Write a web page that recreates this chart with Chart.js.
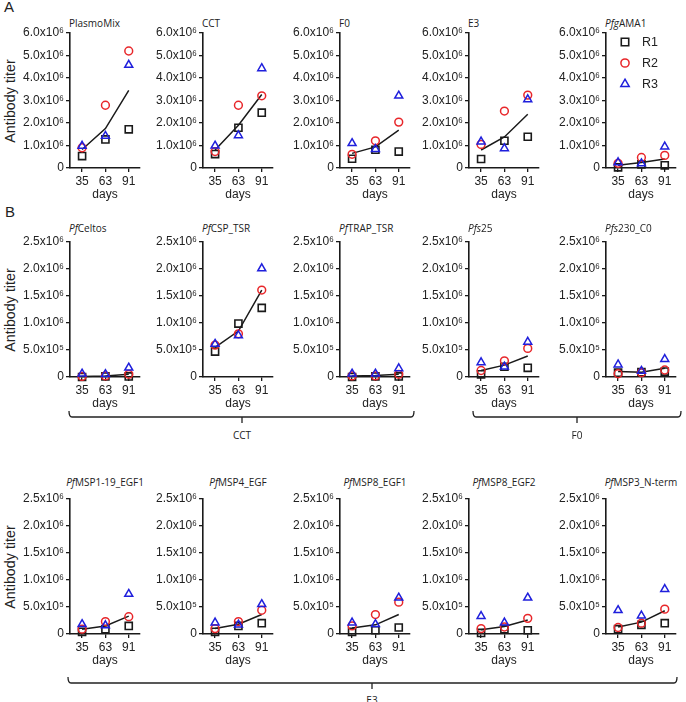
<!DOCTYPE html>
<html><head><meta charset="utf-8">
<script src="https://cdn.jsdelivr.net/npm/chart.js@4.4.0/dist/chart.umd.min.js"></script>
<style>
body{margin:0;background:#fff;width:686px;height:702px;overflow:hidden;position:relative;font-family:'Liberation Sans',Arial,sans-serif;color:#222}
canvas{position:absolute}
.ptitle{position:absolute;font-family:'Open Sans',sans-serif;font-size:10px;white-space:nowrap;line-height:12px;color:#222}
.ylab{position:absolute;font-size:14.3px;white-space:nowrap;line-height:16px;transform:translate(-50%,-50%) rotate(-90deg);color:#222}
.letter{position:absolute;font-size:15px;line-height:16px;color:#222}
.blab{position:absolute;font-family:'Open Sans',sans-serif;font-size:10px;line-height:12px;transform:translate(-50%,-50%);color:#222}
</style>
</head><body>
<div class="letter" style="left:4px;top:-1px">A</div>
<div class="letter" style="left:5px;top:204px">B</div>
<canvas id="overlay" width="686" height="702" style="left:0;top:0"></canvas>
<script>
// ---------------- data ----------------
const days = [35, 63, 91];
const seriesNames = ['R1', 'R2', 'R3'];

const ticksA = [0, 1e6, 2e6, 3e6, 4e6, 5e6, 6e6];
const tickLabelsA = ['0', '1.0x10⁶', '2.0x10⁶', '3.0x10⁶', '4.0x10⁶', '5.0x10⁶', '6.0x10⁶'];
const ticksBC = [0, 5e5, 1e6, 1.5e6, 2e6, 2.5e6];
const tickLabelsBC = ['0', '5.0x10⁵', '1.0x10⁶', '1.5x10⁶', '2.0x10⁶', '2.5x10⁶'];

// Row A
const rowAPrefix = ['', '', '', '', 'Pfg'];
const rowANames = ['PlasmoMix', 'CCT', 'F0', 'E3', 'AMA1'];
const rowA_R1 = [[0.53e6, 1.27e6, 1.72e6], [0.62e6, 1.79e6, 2.46e6], [0.41e6, 0.81e6, 0.73e6], [0.40e6, 1.21e6, 1.39e6], [0.03e6, 0.16e6, 0.12e6]];
const rowA_R2 = [[0.90e6, 2.79e6, 5.20e6], [0.73e6, 2.79e6, 3.21e6], [0.61e6, 1.21e6, 2.04e6], [1.05e6, 2.53e6, 3.24e6], [0.21e6, 0.47e6, 0.56e6]];
const rowA_R3 = [[0.98e6, 1.42e6, 4.58e6], [0.99e6, 1.45e6, 4.43e6], [1.10e6, 0.84e6, 3.21e6], [1.17e6, 0.87e6, 3.05e6], [0.25e6, 0.20e6, 0.95e6]];
const rowA_line = [[0.82e6, 1.75e6, 3.45e6], [0.80e6, 1.90e6, 3.27e6], [0.65e6, 0.94e6, 1.68e6], [0.80e6, 1.38e6, 2.39e6], [0.12e6, 0.24e6, 0.40e6]];

// Row B
const rowBPrefix = ['Pf', 'Pf', 'Pf', 'Pfs', 'Pfs'];
const rowBNames = ['Celtos', 'CSP_TSR', 'TRAP_TSR', '25', '230_C0'];
const rowB_R1 = [[0.00e6, 0.01e6, 0.01e6], [0.47e6, 0.99e6, 1.28e6], [0.00e6, 0.01e6, 0.01e6], [0.05e6, 0.19e6, 0.17e6], [0.08e6, 0.09e6, 0.10e6]];
const rowB_R2 = [[0.01e6, 0.02e6, 0.05e6], [0.59e6, 0.80e6, 1.61e6], [0.02e6, 0.02e6, 0.05e6], [0.12e6, 0.30e6, 0.53e6], [0.06e6, 0.08e6, 0.13e6]];
const rowB_R3 = [[0.06e6, 0.05e6, 0.17e6], [0.61e6, 0.77e6, 2.01e6], [0.06e6, 0.06e6, 0.16e6], [0.27e6, 0.19e6, 0.65e6], [0.23e6, 0.11e6, 0.33e6]];
const rowB_line = [[0.01e6, 0.02e6, 0.05e6], [0.55e6, 0.85e6, 1.61e6], [0.02e6, 0.03e6, 0.05e6], [0.12e6, 0.22e6, 0.39e6], [0.10e6, 0.09e6, 0.16e6]];

// Row C
const rowCPrefix = ['Pf', 'Pf', 'Pf', 'Pf', 'Pf'];
const rowCNames = ['MSP1-19_EGF1', 'MSP4_EGF', 'MSP8_EGF1', 'MSP8_EGF2', 'MSP3_N-term'];
const rowC_R1 = [[0.04e6, 0.09e6, 0.15e6], [0.04e6, 0.15e6, 0.20e6], [0.04e6, 0.07e6, 0.12e6], [0.02e6, 0.09e6, 0.07e6], [0.09e6, 0.17e6, 0.20e6]];
const rowC_R2 = [[0.09e6, 0.23e6, 0.32e6], [0.10e6, 0.23e6, 0.44e6], [0.15e6, 0.36e6, 0.59e6], [0.10e6, 0.13e6, 0.29e6], [0.12e6, 0.20e6, 0.46e6]];
const rowC_R3 = [[0.18e6, 0.16e6, 0.74e6], [0.21e6, 0.17e6, 0.55e6], [0.21e6, 0.18e6, 0.67e6], [0.33e6, 0.21e6, 0.67e6], [0.44e6, 0.34e6, 0.83e6]];
const rowC_line = [[0.09e6, 0.15e6, 0.33e6], [0.10e6, 0.18e6, 0.36e6], [0.11e6, 0.17e6, 0.36e6], [0.08e6, 0.14e6, 0.26e6], [0.13e6, 0.22e6, 0.43e6]];

const groupLabels = ['CCT', 'F0', 'E3'];
const yTitle = 'Antibody titer';
const xTitle = 'days';

// ---------------- layout ----------------
Chart.defaults.font.family = "'Liberation Sans', Arial, Helvetica, sans-serif";
Chart.defaults.color = '#222';

const axisXs = [70, 203, 340, 469, 606];
const PADL = 55, PADT = 12, PW = 70, PH = 135, XH = 34, PADR = 8;
const INK = '#1a1a1a', RED = '#e8262a', BLUE = '#1f1fdc';

const rows = [
  {top: 33, ticks: ticksA, labels: tickLabelsA, max: 6e6, prefix: rowAPrefix, names: rowANames, r1: rowA_R1, r2: rowA_R2, r3: rowA_R3, line: rowA_line, titleTop: 16.5, center: false},
  {top: 242, ticks: ticksBC, labels: tickLabelsBC, max: 2.5e6, prefix: rowBPrefix, names: rowBNames, r1: rowB_R1, r2: rowB_R2, r3: rowB_R3, line: rowB_line, titleTop: 222, center: false},
  {top: 499, ticks: ticksBC, labels: tickLabelsBC, max: 2.5e6, prefix: rowCPrefix, names: rowCNames, r1: rowC_R1, r2: rowC_R2, r3: rowC_R3, line: rowC_line, titleTop: 476, center: true}
];

function markerPath(ctx, style, x, y, r) {
  ctx.beginPath();
  if (style === 'circle') { ctx.arc(x, y, r, 0, Math.PI * 2); }
  else if (style === 'rect') { const s = r * Math.SQRT1_2; ctx.rect(x - s, y - s, 2 * s, 2 * s); }
  else {
    let a = 0; const t = Math.PI * 2 / 3;
    ctx.moveTo(x + Math.sin(a) * r, y - Math.cos(a) * r); a += t;
    ctx.lineTo(x + Math.sin(a) * r, y - Math.cos(a) * r); a += t;
    ctx.lineTo(x + Math.sin(a) * r, y - Math.cos(a) * r);
    ctx.closePath();
  }
}

const legendPlugin = {
  id: 'inlineLegend',
  afterDraw(chart, args, opts) {
    if (!opts.show) return;
    const ctx = chart.ctx;
    const x0 = chart.chartArea.left + 19, y0 = chart.chartArea.top + 9;
    ctx.save();
    chart.data.datasets.filter(d => d.legendItem).forEach((ds, i) => {
      const y = y0 + i * 21;
      markerPath(ctx, ds.pointStyle, x0, y, ds.pointRadius * 1.05);
      ctx.lineWidth = ds.borderWidth; ctx.strokeStyle = ds.borderColor; ctx.stroke();
      ctx.fillStyle = '#222'; ctx.font = "12.5px 'Liberation Sans', Arial, sans-serif";
      ctx.textBaseline = 'middle'; ctx.textAlign = 'left';
      ctx.fillText(ds.label, x0 + 17, y + 0.5);
    });
    ctx.restore();
  }
};

function pts(vals) { return vals.map((v, i) => ({x: days[i], y: v})); }

rows.forEach((row, ri) => {
  // y title
  const yl = document.createElement('div');
  yl.className = 'ylab'; yl.textContent = yTitle;
  yl.style.left = '10px'; yl.style.top = (row.top + PH / 2) + 'px';
  document.body.appendChild(yl);

  axisXs.forEach((X, p) => {
    const t = document.createElement('div');
    t.className = 'ptitle';
    t.innerHTML = (row.prefix[p] ? '<i>' + row.prefix[p] + '</i>' : '') + row.names[p];
    t.style.top = row.titleTop + 'px';
    if (row.center) { t.style.left = (X + 35) + 'px'; t.style.transform = 'translateX(-50%)'; }
    else { t.style.left = (X - 1) + 'px'; }
    document.body.appendChild(t);

    const cv = document.createElement('canvas');
    cv.width = PADL + PW + PADR; cv.height = PADT + PH + XH;
    cv.style.left = (X - PADL) + 'px'; cv.style.top = (row.top - PADT) + 'px';
    document.body.appendChild(cv);

    new Chart(cv, {
      type: 'scatter',
      data: {datasets: [
        {label: 'mean', data: pts(row.line[p]), showLine: true, borderColor: INK, borderWidth: 1.5, pointRadius: 0, clip: false, order: 5},
        {label: seriesNames[0], legendItem: true, data: pts(row.r1[p]), pointStyle: 'rect', pointRadius: 5, borderColor: INK, borderWidth: 1.6, backgroundColor: 'rgba(0,0,0,0)', clip: false, order: 3},
        {label: seriesNames[1], legendItem: true, data: pts(row.r2[p]), pointStyle: 'circle', pointRadius: 3.9, borderColor: RED, borderWidth: 1.5, backgroundColor: 'rgba(0,0,0,0)', clip: false, order: 2},
        {label: seriesNames[2], legendItem: true, data: pts(row.r3[p]), pointStyle: 'triangle', pointRadius: 4.6, borderColor: BLUE, borderWidth: 1.5, backgroundColor: 'rgba(0,0,0,0)', clip: false, order: 1}
      ]},
      options: {
        responsive: false, animation: false, devicePixelRatio: 1,
        layout: {padding: {left: 0, top: PADT, right: PADR, bottom: 0}},
        plugins: {legend: {display: false}, tooltip: {enabled: false}, inlineLegend: {show: ri === 0 && p === 4}},
        elements: {point: {hoverRadius: 0}},
        scales: {
          x: {
            type: 'linear', min: 20.5, max: 104.5,
            afterBuildTicks: s => { s.ticks = days.map(v => ({value: v})); },
            afterFit: s => { s.height = XH; },
            ticks: {font: {size: 12}, color: '#222', padding: 2, maxRotation: 0, autoSkip: false},
            grid: {display: true, drawOnChartArea: false, drawTicks: true, tickLength: 4, color: INK, lineWidth: 1.3},
            border: {display: true, color: INK, width: 1.6},
            title: {display: true, text: xTitle, font: {size: 12}, color: '#222', padding: 0}
          },
          y: {
            type: 'linear', min: 0, max: row.max,
            afterBuildTicks: s => { s.ticks = row.ticks.map(v => ({value: v})); },
            afterFit: s => { s.width = PADL; },
            ticks: {font: {size: 12}, color: '#222', padding: 2, autoSkip: false, callback: (v, i) => row.labels[i]},
            grid: {display: true, drawOnChartArea: false, drawTicks: true, tickLength: 4, color: INK, lineWidth: 1.3},
            border: {display: true, color: INK, width: 1.6}
          }
        }
      },
      plugins: [legendPlugin]
    });
  });
});

// brackets
const octx = document.getElementById('overlay').getContext('2d');
octx.strokeStyle = '#222'; octx.lineWidth = 1.3;
function bracket(x1, x2, y, xc) {
  octx.beginPath();
  octx.moveTo(x1, y - 6); octx.quadraticCurveTo(x1, y, x1 + 3, y);
  octx.lineTo(x2 - 3, y); octx.quadraticCurveTo(x2, y, x2, y - 6);
  octx.moveTo(xc, y); octx.lineTo(xc, y + 6);
  octx.stroke();
}
const brackets = [[69, 414, 417, 242, 435], [473, 681, 417, 577, 435], [68, 677, 683, 372, 700]];
brackets.forEach((b, i) => {
  bracket(b[0], b[1], b[2], b[3]);
  const l = document.createElement('div');
  l.className = 'blab'; l.textContent = groupLabels[i];
  l.style.left = b[3] + 'px'; l.style.top = b[4] + 'px';
  document.body.appendChild(l);
});
document.body.appendChild(document.getElementById('overlay'));
document.getElementById('overlay').style.pointerEvents = 'none';
</script>
</body></html>
